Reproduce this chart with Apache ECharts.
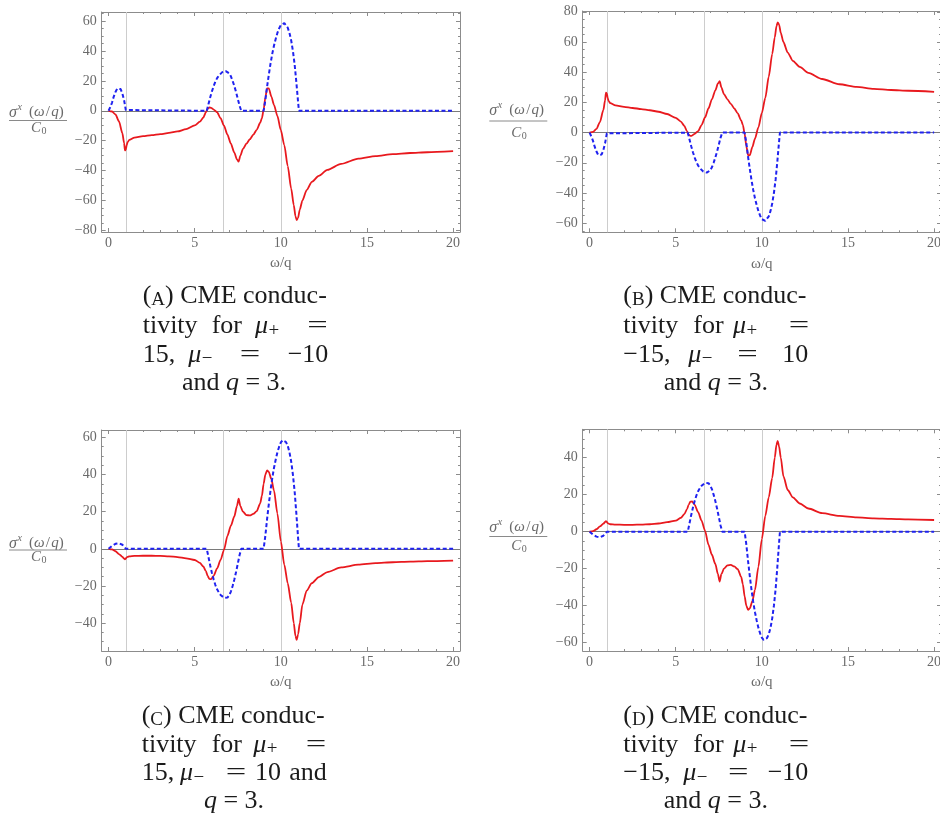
<!DOCTYPE html>
<html><head><meta charset="utf-8">
<script src="https://cdn.jsdelivr.net/npm/echarts@6/dist/echarts.min.js"></script>
<style>html,body{margin:0;padding:0;background:#fff}#c{width:940px;height:819px}</style>
</head><body><div id="c"></div>
<script>
// ---------- data ----------
const xTicks = [0, 5, 10, 15, 20];
const yTicksA = [-80, -60, -40, -20, 0, 20, 40, 60];
const yTicksB = [-60, -40, -20, 0, 20, 40, 60, 80];
const yTicksC = [-40, -20, 0, 20, 40, 60];
const yTicksD = [-60, -40, -20, 0, 20, 40];
const vLines = [1, 6.67, 10];

const xRed = [0,0.2,0.4,0.6,0.8, 0.9,0.95,1.0,1.05,1.1, 1.2,1.5,2,2.5,3, 3.5,4,4.5,5,5.3,
  5.5,5.65,5.75,5.85,5.95, 6.1,6.3,6.5,6.7,6.9, 7.1,7.3,7.45,7.55,7.65, 7.8,8.0,8.2,8.4,8.6,
  8.8,8.9,9.0,9.1,9.2, 9.3,9.45,9.6,9.8,10.0, 10.2,10.4,10.6,10.75,10.85, 10.92,11.0,11.1,11.25,11.5,
  11.8,12.2,12.7,13.5,14.5, 15.5,16.5,17.5,18.5,20];
const redA = [0,-0.5,-2.5,-7,-15, -21.5,-26.5,-26,-23,-21, -19.5,-18,-17,-16.3,-15.6, -14.8,-13.8,-12.3,-9.8,-7.3,
  -4.5,-1,1.3,2.2,2, 0.8,-1,-5,-10,-16, -22,-28,-32.5,-34,-30, -25.5,-22,-19,-16,-12.7,
  -8,-5,0.7,9,15, 15,9.5,4,-3.5,-13, -23,-37,-52,-63,-70.5, -73,-71.5,-66,-60,-53,
  -47.5,-43.5,-39.5,-35.5,-32, -30.3,-29,-28.2,-27.7,-27];
const redB = [0,0.5,2.5,7,15, 21.5,26.5,26,23,21, 19.5,18,17,16.3,15.6, 14.8,13.8,12.3,9.8,7.3,
  4.5,1,-1.3,-2.2,-2, -0.8,1,5,10,16, 22,28,32.5,34,30, 25.5,22,19,16,12.7,
  8,5,-0.7,-9,-15, -15,-9.5,-4,3.5,13, 23,37,52,63,70.5, 73,71.5,66,60,53,
  47.5,43.5,39.5,35.5,32, 30.3,29,28.2,27.7,27];
const redC = [0,-0.3,-1.3,-2.8,-4.3, -5.2,-5.6,-5.2,-4.6,-4.3, -4,-3.8,-3.7,-3.7,-3.8, -4,-4.4,-5.1,-6,-7.5,
  -9.5,-12,-14.5,-16.2,-16.3, -14.5,-10.5,-6,-0.5,7, 12.5,17.5,23,27,23, 20,18.2,18,18.8,20.3,
  24.5,28.5,35,40,42.3, 41.5,37.5,31.5,19,4, -8.5,-18.5,-29,-40,-47, -49,-46,-40,-30,-22.5,
  -18.5,-15.2,-12.5,-10,-8.5, -7.7,-7.2,-6.9,-6.6,-6.3];
const redD = [0,0.3,1.3,2.8,4.3, 5.2,5.6,5.2,4.6,4.3, 4,3.8,3.7,3.7,3.8, 4,4.4,5.1,6,7.5,
  9.5,12,14.5,16.2,16.3, 14.5,10.5,6,0.5,-7, -12.5,-17.5,-23,-27,-23, -20,-18.2,-18,-18.8,-20.3,
  -24.5,-28.5,-35,-40,-42.3, -41.5,-37.5,-31.5,-19,-4, 8.5,18.5,29,40,47, 49,46,40,30,22.5,
  18.5,15.2,12.5,10,8.5, 7.7,7.2,6.9,6.6,6.3];

const xBlue = [0,0.1,0.2,0.3,0.4,0.5,0.6,0.7,0.8,0.9,1.0,1.05,
  5.7,5.8,5.9,6.0,6.1,6.2,6.3,6.4,6.5,6.6,6.7,6.8,6.9,7.0,7.1,7.2,7.3,7.4,7.5,7.6,7.7,
  9.0,9.1,9.2,9.3,9.4,9.5,9.6,9.7,9.8,9.9,10.0,10.1,10.2,10.3,10.4,10.5,10.6,10.7,10.8,10.9,11.0,11.05,
  20];
const blueA = [0,2.5,5.5,9.5,12.5,14.8,15.5,14.5,11.5,7,0.5,0,
  0,4.5,9,13,16.5,19.5,21.8,23.5,24.8,25.8,26.3,26.5,26.2,25,23,20,16.5,12.5,8,3.5,0,
  0,7,16,24,31.5,38,43.5,48,52,55,57.3,58.5,58.5,57.5,55.5,52,47,40,31,19,6,0,
  0];
const blueB = [0,-2.5,-5.5,-9.5,-12.5,-14.8,-15.5,-14.5,-11.5,-7,-0.5,0,
  0,-4.5,-9,-13,-16.5,-19.5,-21.8,-23.5,-24.8,-25.8,-26.3,-26.5,-26.2,-25,-23,-20,-16.5,-12.5,-8,-3.5,0,
  0,-7,-16,-24,-31.5,-38,-43.5,-48,-52,-55,-57.3,-58.5,-58.5,-57.5,-55.5,-52,-47,-40,-31,-19,-6,0,
  0];
const blueC = [0,0.8,1.6,2.3,2.7,2.9,3,2.8,2.2,1.3,0.1,0,
  0,-4.5,-9,-13,-16.5,-19.5,-21.8,-23.5,-24.8,-25.8,-26.3,-26.5,-26.2,-25,-23,-20,-16.5,-12.5,-8,-3.5,0,
  0,7,16,24,31.5,38,43.5,48,52,55,57.3,58.5,58.5,57.5,55.5,52,47,40,31,19,6,0,
  0];
const blueD = [0,-0.8,-1.6,-2.3,-2.7,-2.9,-3,-2.8,-2.2,-1.3,-0.1,0,
  0,4.5,9,13,16.5,19.5,21.8,23.5,24.8,25.8,26.3,26.5,26.2,25,23,20,16.5,12.5,8,3.5,0,
  0,-7,-16,-24,-31.5,-38,-43.5,-48,-52,-55,-57.3,-58.5,-58.5,-57.5,-55.5,-52,-47,-40,-31,-19,-6,0,
  0];

// ---------- layout / styles ----------
const SERIF = '"Liberation Serif", "Times New Roman", serif';
const INK = '#1b1b1b';
const FRAME = '#8c8c8c';
const LBL = '#6a6a6a';

const panels = [
  { red: redA, blue: blueA, yMin: -81, yMax: 66, yTicks: yTicksA, rect: { left: 101.7, top: 12, width: 358.3, height: 220 } },
  { red: redB, blue: blueB, yMin: -66, yMax: 80.5, yTicks: yTicksB, rect: { left: 582.7, top: 11, width: 358.3, height: 221.3 } },
  { red: redC, blue: blueC, yMin: -55, yMax: 64, yTicks: yTicksC, rect: { left: 101.7, top: 430, width: 358.3, height: 221 } },
  { red: redD, blue: blueD, yMin: -64.5, yMax: 55.3, yTicks: yTicksD, rect: { left: 582.7, top: 429.3, width: 358.3, height: 221.7 } }
];

const zip = (xs, ys) => xs.map((x, i) => [x, ys[i]]);
const fmt = v => (v < 0 ? '\u2212' + Math.abs(v) : String(v));

const grids = [], xAxes = [], yAxes = [], series = [];
panels.forEach((p, i) => {
  grids.push(Object.assign({ outerBoundsMode: 'none', containLabel: false }, p.rect));
  const xMinor = []; for (let v = 0; v <= 20; v++) if (v % 5) xMinor.push(v);
  const yMinor = []; for (let v = Math.ceil(p.yMin / 5) * 5; v <= p.yMax; v += 5) if (v % 20) yMinor.push(v);
  const lblStyle = { color: LBL, fontFamily: SERIF, fontSize: 14 };
  const base = { type: 'value', gridIndex: i, splitLine: { show: false }, minorTick: { show: false } };
  const line = { show: true, onZero: false, lineStyle: { color: FRAME, width: 1 } };
  const noLine = { show: false, onZero: false };
  const tk = (vals, len) => ({ show: true, inside: true, length: len, customValues: vals, lineStyle: { color: FRAME, width: 1 } });
  const xb = Object.assign({}, base, { min: -0.4, max: 20.4 });
  const yb = Object.assign({}, base, { min: p.yMin, max: p.yMax });
  xAxes.push(
    Object.assign({}, xb, { position: 'bottom', axisLine: line, axisTick: tk(xTicks, 4),
      axisLabel: Object.assign({ customValues: xTicks, margin: 4, formatter: fmt }, lblStyle),
      name: 'ω/q', nameLocation: 'middle', nameGap: 24, nameTextStyle: { color: LBL, fontFamily: SERIF, fontSize: 15 } }),
    Object.assign({}, xb, { position: 'bottom', axisLine: noLine, axisTick: tk(xMinor, 2), axisLabel: { show: false } }),
    Object.assign({}, xb, { position: 'top', axisLine: line, axisTick: tk(xTicks, 4), axisLabel: { show: false } }),
    Object.assign({}, xb, { position: 'top', axisLine: noLine, axisTick: tk(xMinor, 2), axisLabel: { show: false } })
  );
  yAxes.push(
    Object.assign({}, yb, { position: 'left', axisLine: line, axisTick: tk(p.yTicks, 4),
      axisLabel: Object.assign({ customValues: p.yTicks, margin: 5, formatter: fmt }, lblStyle) }),
    Object.assign({}, yb, { position: 'left', axisLine: noLine, axisTick: tk(yMinor, 2), axisLabel: { show: false } }),
    Object.assign({}, yb, { position: 'right', axisLine: line, axisTick: tk(p.yTicks, 4), axisLabel: { show: false } }),
    Object.assign({}, yb, { position: 'right', axisLine: noLine, axisTick: tk(yMinor, 2), axisLabel: { show: false } })
  );
  series.push({
    type: 'line', xAxisIndex: 4 * i, yAxisIndex: 4 * i, data: zip(xRed, p.red),
    showSymbol: false, symbol: 'none', z: 3, silent: true,
    smooth: 0.25, smoothMonotone: 'x',
    lineStyle: { color: '#e8191e', width: 1.8 },
    markLine: {
      z: 1, silent: true, symbol: 'none', label: { show: false }, animation: false,
      data: vLines.map(v => ({ xAxis: v, lineStyle: { color: '#cdcdcd', width: 1, type: 'solid' } }))
        .concat([{ yAxis: 0, lineStyle: { color: '#7a7a7a', width: 1, type: 'solid' } }])
    }
  });
  series.push({
    type: 'line', xAxisIndex: 4 * i, yAxisIndex: 4 * i, data: zip(xBlue, p.blue),
    showSymbol: false, symbol: 'none', z: 4, silent: true,
    lineStyle: { color: '#1f22f0', width: 2, type: [4, 2.5] }
  });
});

// ---------- text helpers ----------
function C(x, cy, text, o) {
  o = o || {};
  const size = o.size || 26;
  const al = o.align || 'left';
  const st = {
    text: text, fill: o.fill || INK, fontSize: size, fontFamily: SERIF,
    fontStyle: o.italic ? 'italic' : 'normal',
    textAlign: al, align: al, textVerticalAlign: 'middle', verticalAlign: 'middle'
  };
  if (o.rich) st.rich = o.rich;
  const el = { type: 'text', x: x, y: cy, silent: true, style: st };
  if (o.sx) el.scaleX = o.sx;
  return el;
}
function T(x, base, text, o) { o = o || {}; return C(x, base - 0.3 * (o.size || 26), text, o); }
const R = {
  i: { fontStyle: 'italic', fontSize: 26, fontFamily: SERIF, fill: INK },
  sc: { fontSize: 19, fontFamily: SERIF, fill: INK, verticalAlign: 'bottom' }
};
function MU(x, base, sign) {
  return [T(x, base, 'μ', { italic: true }), T(x + 13.5, base + 2.5, sign, { size: 19 })];
}
function EQ(cx, base) { return T(cx, base, '=', { align: 'center', sx: 1.4 }); }

const g = [];
// Caption A
(function () {
  const b = [304, 334, 362.5, 390.5];
  g.push(T(142.7, b[0], '({sc|A}) CME conduc-', { rich: R }));
  g.push(T(142.7, b[1], 'tivity'), T(211.7, b[1], 'for'), ...MU(255, b[1], '+'), EQ(317.5, b[1]));
  g.push(T(142.7, b[2], '15,'), ...MU(188.3, b[2], '\u2212'), EQ(250, b[2]), T(328.3, b[2], '\u221210', { align: 'right' }));
  g.push(T(234, b[3], 'and {i|q} = 3.', { align: 'center', rich: R }));
})();
// Caption B
(function () {
  const b = [304, 334, 362.5, 390.5];
  g.push(T(623.3, b[0], '({sc|B}) CME conduc-', { rich: R }));
  g.push(T(623.3, b[1], 'tivity'), T(693.3, b[1], 'for'), ...MU(733, b[1], '+'), EQ(799, b[1]));
  g.push(T(623.3, b[2], '\u221215,'), ...MU(688.3, b[2], '\u2212'), EQ(747.5, b[2]), T(808.3, b[2], '10', { align: 'right' }));
  g.push(T(715.8, b[3], 'and {i|q} = 3.', { align: 'center', rich: R }));
})();
// Caption C
(function () {
  const b = [724, 752.5, 781, 809];
  g.push(T(141.7, b[0], '({sc|C}) CME conduc-', { rich: R }));
  g.push(T(141.7, b[1], 'tivity'), T(211.7, b[1], 'for'), ...MU(253.3, b[1], '+'), EQ(316, b[1]));
  g.push(T(141.7, b[2], '15,'), ...MU(180, b[2], '\u2212'), EQ(236, b[2]), T(255, b[2], '10'), T(326.7, b[2], 'and', { align: 'right' }));
  g.push(T(234, b[3], '{i|q} = 3.', { align: 'center', rich: R }));
})();
// Caption D
(function () {
  const b = [724, 752.5, 781, 809];
  g.push(T(623.3, b[0], '({sc|D}) CME conduc-', { rich: R }));
  g.push(T(623.3, b[1], 'tivity'), T(693.3, b[1], 'for'), ...MU(733.3, b[1], '+'), EQ(799, b[1]));
  g.push(T(623.3, b[2], '\u221215,'), ...MU(683.3, b[2], '\u2212'), EQ(738.3, b[2]), T(808.3, b[2], '\u221210', { align: 'right' }));
  g.push(T(715.8, b[3], 'and {i|q} = 3.', { align: 'center', rich: R }));
})();

// y-axis fraction labels
const RF = { i: { fontStyle: 'italic', fontSize: 15, fontFamily: SERIF, fill: LBL } };
function frac(cx, ny, by, dy) {
  g.push(
    C(cx - 29, ny + 1, 'σ', { italic: true, size: 16, fill: LBL }),
    C(cx - 20.5, ny - 5, 'x', { italic: true, size: 10, fill: LBL }),
    C(cx - 9, ny, '({i|ω}\u200a/\u200a{i|q})', { size: 15, fill: LBL, rich: RF }),
    { type: 'line', silent: true, shape: { x1: cx - 29, y1: by, x2: cx + 29, y2: by }, style: { stroke: '#8a8a8a', lineWidth: 1 } },
    C(cx - 7, dy, 'C', { italic: true, size: 15, fill: LBL }),
    C(cx + 3.5, dy + 3, '0', { size: 10, fill: LBL })
  );
}
frac(38, 112, 120.5, 128.5);
frac(518.3, 110, 121, 133);
frac(38, 543, 550, 557);
frac(518.3, 527, 536.5, 546);

const chart = echarts.init(document.getElementById('c'), null, { renderer: 'canvas', width: 940, height: 819 });
chart.setOption({
  backgroundColor: '#ffffff',
  animation: false,
  grid: grids,
  xAxis: xAxes,
  yAxis: yAxes,
  series: series,
  graphic: { elements: g }
});
</script>
</body></html>
